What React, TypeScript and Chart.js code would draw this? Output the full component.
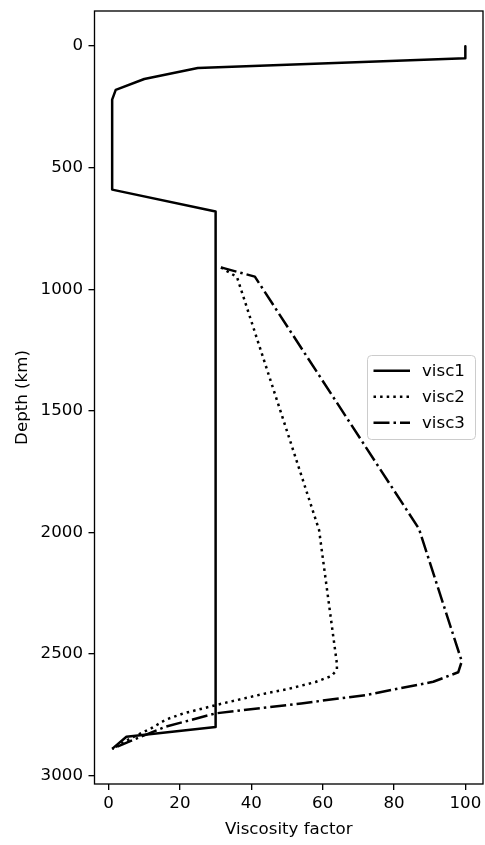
import React, { useEffect, useRef } from "react";
import { Chart, registerables } from "chart.js";

Chart.register(...registerables);

const seriesNames = ["visc1", "visc2", "visc3"];

const visc1X = [100, 100, 25, 10, 2, 1, 1, 30, 30, 5, 1];
const visc1Depth = [0, 50, 90, 135, 180, 220, 590, 680, 2800, 2840, 2890];

const visc2X = [31.5, 36, 59, 64, 64, 62.5, 58, 50, 44, 32, 21, 16, 12, 6, 1];
const visc2Depth = [910, 950, 1990, 2540, 2565, 2590, 2615, 2645, 2662, 2703, 2744, 2770, 2805, 2848, 2890];

const visc3X = [31.5, 41, 87, 99, 98, 91, 72, 54, 30, 16, 9, 1];
const visc3Depth = [910, 948, 1985, 2530, 2575, 2614, 2669, 2703, 2744, 2799, 2840, 2890];

const xTicks = [0, 20, 40, 60, 80, 100];
const yTicks = [0, 500, 1000, 1500, 2000, 2500, 3000];

const xTitle = "Viscosity factor";
const yTitle = "Depth (km)";

const FONT = "DejaVu Sans";
const FS = 16.67;
const dashes: number[][] = [[], [2.5, 4.1], [16, 4, 2.5, 4]];

function pts(xs: number[], ys: number[]) {
  return xs.map((x, i) => ({ x, y: ys[i] }));
}

const framePlugin = {
  id: "framePlugin",
  afterDraw(chart: any) {
    const { ctx, chartArea } = chart;
    const { left, right, top, bottom } = chartArea;
    ctx.save();
    ctx.strokeStyle = "#000";
    ctx.lineWidth = 1.33;
    ctx.strokeRect(left, top, right - left, bottom - top);

    // axis titles
    ctx.fillStyle = "#000";
    ctx.font = `${FS}px "${FONT}"`;
    ctx.textAlign = "center";
    ctx.textBaseline = "alphabetic";
    ctx.fillText(xTitle, (left + right) / 2, 834);
    ctx.save();
    ctx.translate(26.5, (top + bottom) / 2);
    ctx.rotate(-Math.PI / 2);
    ctx.fillText(yTitle, 0, 0);
    ctx.restore();

    // legend
    const bx = 367.5, by = 355.5, bw = 108, bh = 84, r = 4;
    ctx.beginPath();
    ctx.moveTo(bx + r, by);
    ctx.lineTo(bx + bw - r, by);
    ctx.arcTo(bx + bw, by, bx + bw, by + r, r);
    ctx.lineTo(bx + bw, by + bh - r);
    ctx.arcTo(bx + bw, by + bh, bx + bw - r, by + bh, r);
    ctx.lineTo(bx + r, by + bh);
    ctx.arcTo(bx, by + bh, bx, by + bh - r, r);
    ctx.lineTo(bx, by + r);
    ctx.arcTo(bx, by, bx + r, by, r);
    ctx.closePath();
    ctx.fillStyle = "rgba(255,255,255,0.8)";
    ctx.fill();
    ctx.strokeStyle = "#cccccc";
    ctx.lineWidth = 1;
    ctx.stroke();

    const rowY = [370.7, 396.7, 422.7];
    seriesNames.forEach((name, i) => {
      ctx.beginPath();
      ctx.setLineDash(dashes[i]);
      ctx.lineWidth = 2.5;
      ctx.strokeStyle = "#000";
      ctx.lineCap = "butt";
      ctx.moveTo(373.5, rowY[i]);
      ctx.lineTo(410, rowY[i]);
      ctx.stroke();
      ctx.setLineDash([]);
      ctx.fillStyle = "#000";
      ctx.textAlign = "left";
      ctx.textBaseline = "middle";
      ctx.fillText(name, 422, rowY[i] + 1);
    });
    ctx.restore();
  },
};

export default function App() {
  const ref = useRef<HTMLCanvasElement>(null);

  useEffect(() => {
    if (!ref.current) return;
    const datasets = [
      pts(visc1X, visc1Depth),
      pts(visc2X, visc2Depth),
      pts(visc3X, visc3Depth),
    ].map((data, i) => ({
      label: seriesNames[i],
      data,
      showLine: true,
      borderColor: "#000",
      backgroundColor: "#000",
      borderWidth: 2.5,
      borderDash: dashes[i],
      borderCapStyle: "butt" as const,
      borderJoinStyle: "round" as const,
      pointRadius: 0,
      pointHoverRadius: 0,
      tension: 0,
      fill: false,
    }));

    const chart = new Chart(ref.current, {
      type: "scatter",
      data: { datasets },
      options: {
        animation: false,
        responsive: false,
        maintainAspectRatio: false,
        devicePixelRatio: 1,
        layout: { padding: { top: 11, right: 2, left: 0, bottom: 0 } },
        plugins: {
          legend: { display: false },
          tooltip: { enabled: false },
        },
        scales: {
          x: {
            type: "linear",
            min: -3.95,
            max: 104.95,
            afterBuildTicks: (s: any) => {
              s.ticks = xTicks.map((v) => ({ value: v }));
            },
            afterFit: (s: any) => {
              s.height = 61;
              s.paddingLeft = 0;
              s.paddingRight = 0;
            },
            grid: {
              drawOnChartArea: false,
              drawTicks: true,
              tickLength: 6,
              color: "#000",
              lineWidth: 1.33,
            },
            border: { display: false },
            ticks: {
              color: "#000",
              padding: 4,
              font: { family: FONT, size: FS },
              maxRotation: 0,
              callback: (v: any) => String(v),
            },
          },
          y: {
            type: "linear",
            reverse: true,
            min: -144.5,
            max: 3034.5,
            afterBuildTicks: (s: any) => {
              s.ticks = yTicks.map((v) => ({ value: v }));
            },
            afterFit: (s: any) => {
              s.width = 94.5;
              s.paddingTop = 0;
              s.paddingBottom = 0;
            },
            grid: {
              drawOnChartArea: false,
              drawTicks: true,
              tickLength: 6,
              color: "#000",
              lineWidth: 1.33,
            },
            border: { display: false },
            ticks: {
              color: "#000",
              padding: 5.5,
              font: { family: FONT, size: FS },
              callback: (v: any) => String(v),
            },
          },
        },
      },
      plugins: [framePlugin],
    });
    return () => chart.destroy();
  }, []);

  return (
    <div style={{ position: "absolute", left: 0, top: 0, width: 485, height: 845, background: "#fff" }}>
      <canvas ref={ref} width={485} height={845} style={{ width: 485, height: 845, display: "block" }} />
    </div>
  );
}
